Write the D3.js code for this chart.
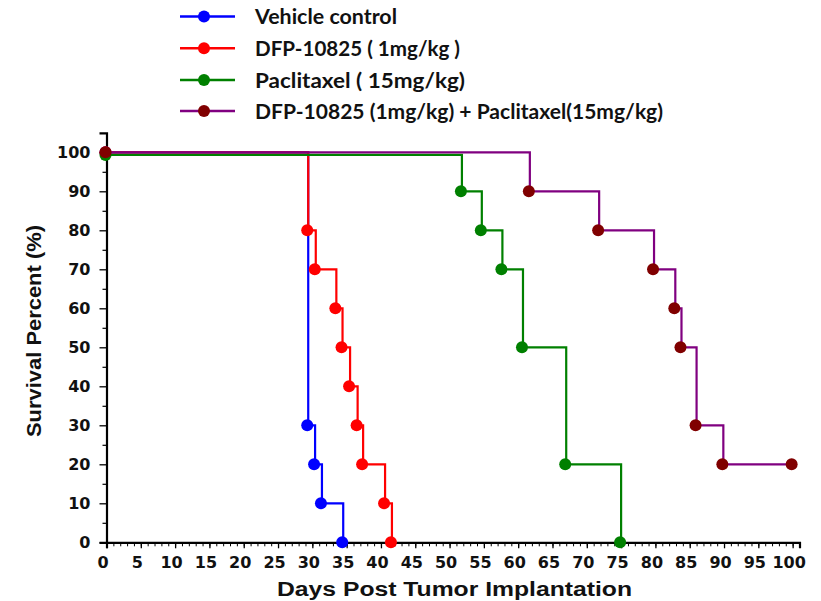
<!DOCTYPE html>
<html>
<head>
<meta charset="utf-8">
<script src="https://cdn.jsdelivr.net/npm/d3@7"></script>
<style>
  html, body { margin: 0; padding: 0; background: #fff; }
  svg { display: block; }
</style>
</head>
<body>
<svg id="chart" width="821" height="601"></svg>
<script>
// ---------- data ----------
const seriesNames = [
  "Vehicle control",
  "DFP-10825 ( 1mg/kg )",
  "Paclitaxel ( 15mg/kg)",
  "DFP-10825 (1mg/kg) + Paclitaxel(15mg/kg)"
];
// days at which survival drops, and survival (%) after each drop
const vehicleDays     = [0, 29.4, 30.4, 31.4, 34.5];
const vehicleSurv     = [100, 30, 20, 10, 0];
const dfpDays         = [0, 29.4, 30.5, 33.5, 34.4, 35.5, 36.6, 37.4, 40.6, 41.6];
const dfpSurv         = [100, 80, 70, 60, 50, 40, 30, 20, 10, 0];
const paclitaxelDays  = [0, 51.8, 54.7, 57.7, 60.7, 67.0, 75.0];
const paclitaxelSurv  = [100, 90, 80, 70, 50, 20, 0];
const comboDays       = [0, 61.7, 71.8, 79.8, 82.9, 83.8, 86.0, 89.9, 100.0];
const comboSurv       = [100, 90, 80, 70, 60, 50, 30, 20, 20];

const xTickValues = d3.range(0, 101, 5);
const yTickValues = d3.range(0, 101, 10);
const xTitle = "Days Post Tumor Implantation";
const yTitle = "Survival Percent (%)";

// ---------- styles ----------
const lineColors   = ["#0000ff", "#ff0000", "#008000", "#800080"];
const markerColors = ["#0000ff", "#ff0000", "#008000", "#800000"];
const legendWidths = [142, 205, 210, 408];
const topDodge     = [0, 0, 2.6, 0]; // visual offset of overlapping 100% segments

const series = [
  {days: vehicleDays, surv: vehicleSurv},
  {days: dfpDays, surv: dfpSurv},
  {days: paclitaxelDays, surv: paclitaxelSurv},
  {days: comboDays, surv: comboSurv}
].map((s, i) => ({
  name: seriesNames[i],
  pts: s.days.map((d, j) => ({x: d, y: s.surv[j]})),
  line: lineColors[i], mark: markerColors[i], dodge: topDodge[i]
}));

const svg = d3.select("#chart");
svg.append("rect").attr("width", 821).attr("height", 601).attr("fill", "#fff");

const x = d3.scaleLinear().domain([0, 101]).range([106.5, 799.5]);
const y = d3.scaleLinear().domain([0, 105]).range([542.3, 132.8]);
const Y = (d, s) => y(d.y) + (d.y === 100 ? s.dodge : 0);

// ---------- axes ----------
const xAxisG = svg.append("g").attr("transform", `translate(0,${y(0)})`);
xAxisG.append("g")
  .call(d3.axisBottom(x).tickValues(d3.range(0, 101, 1)).tickSize(4).tickFormat(""))
  .call(g => g.select(".domain").remove())
  .call(g => g.selectAll("line").attr("stroke", "#000").attr("stroke-width", 1));
xAxisG.append("g")
  .call(d3.axisBottom(x).tickValues(xTickValues).tickSize(6).tickPadding(6))
  .call(g => g.select(".domain").attr("stroke", "#000").attr("stroke-width", 2.2))
  .call(g => g.selectAll("line").attr("stroke", "#000").attr("stroke-width", 1.3))
  .call(g => g.selectAll("text")
     .attr("font-family", "DejaVu Sans").attr("font-weight", "bold")
     .attr("font-size", 16).attr("fill", "#111").attr("dx", -4).attr("dy", "0.85em"));

const yAxisG = svg.append("g").attr("transform", `translate(${x(0)},0)`);
yAxisG.append("g")
  .call(d3.axisLeft(y).tickValues(d3.range(5, 101, 10)).tickSize(4).tickFormat(""))
  .call(g => g.select(".domain").remove())
  .call(g => g.selectAll("line").attr("stroke", "#000").attr("stroke-width", 1.2));
yAxisG.append("g")
  .call(d3.axisLeft(y).tickValues(yTickValues).tickSize(7).tickPadding(9))
  .call(g => g.select(".domain").attr("stroke", "#000").attr("stroke-width", 2.2))
  .call(g => g.selectAll("line").attr("stroke", "#000").attr("stroke-width", 1.3))
  .call(g => g.selectAll("text")
     .attr("font-family", "DejaVu Sans").attr("font-weight", "bold")
     .attr("font-size", 16).attr("fill", "#111"));

// axis titles
svg.append("text")
  .attr("x", 454.5).attr("y", 596)
  .attr("text-anchor", "middle")
  .attr("font-family", "Liberation Sans, Arial, sans-serif").attr("font-weight", "bold")
  .attr("font-size", 20).attr("fill", "#111")
  .attr("textLength", 355).attr("lengthAdjust", "spacingAndGlyphs")
  .text(xTitle);
svg.append("text")
  .attr("transform", "translate(41,331) rotate(-90)")
  .attr("text-anchor", "middle")
  .attr("font-family", "Liberation Sans, Arial, sans-serif").attr("font-weight", "bold")
  .attr("font-size", 20).attr("fill", "#111")
  .attr("textLength", 212).attr("lengthAdjust", "spacingAndGlyphs")
  .text(yTitle);

// ---------- survival curves ----------
series.forEach(s => {
  const line = d3.line().x(d => x(d.x)).y(d => Y(d, s)).curve(d3.curveStepAfter);
  const g = svg.append("g");
  g.append("path").datum(s.pts)
    .attr("d", line).attr("fill", "none")
    .attr("stroke", s.line).attr("stroke-width", 2.2);
  g.selectAll("circle").data(s.pts).join("circle")
    .attr("cx", d => x(d.x) - 1).attr("cy", d => Y(d, s))
    .attr("r", 6).attr("fill", s.mark);
});

// ---------- legend ----------
const legendRowsY = [16.5, 48.3, 80, 111];
const leg = svg.append("g");
series.forEach((s, i) => {
  const ly = legendRowsY[i];
  leg.append("line").attr("x1", 180).attr("x2", 235).attr("y1", ly).attr("y2", ly)
    .attr("stroke", s.line).attr("stroke-width", 2.5);
  leg.append("circle").attr("cx", 204).attr("cy", ly).attr("r", 6).attr("fill", s.mark);
  leg.append("text").attr("x", 255).attr("y", ly + 7.5)
    .attr("font-family", "Lato, sans-serif").attr("font-weight", "bold")
    .attr("font-size", 20).attr("fill", "#111")
    .attr("textLength", legendWidths[i]).attr("lengthAdjust", "spacingAndGlyphs")
    .text(s.name);
});
</script>
</body>
</html>
